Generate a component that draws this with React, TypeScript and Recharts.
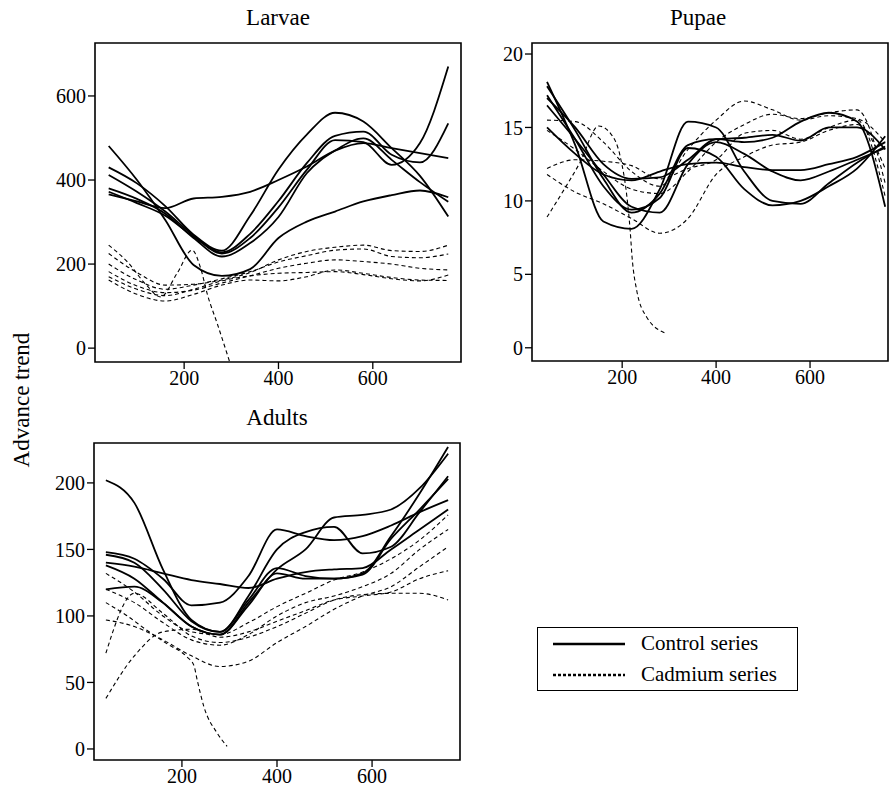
import React from "react";
import { LineChart, Line, XAxis, YAxis, ReferenceArea } from "recharts";

const FONT = '"Liberation Serif", "DejaVu Serif", serif';

// shared sampling of the smoothed trends (x axis)
const xGrid = [40, 100, 160, 220, 280, 340, 400, 460, 520, 580, 640, 700, 760];
const xTicks = [200, 400, 600];

// Larvae
const larvaeTicks = [0, 200, 400, 600];
const larvaeControl = [
  [481, 400, 305, 198, 172, 188, 262, 301, 325, 349, 364, 375, 359],
  [430, 392, 338, 270, 232, 315, 425, 508, 560, 539, 476, 410, 313],
  [412, 372, 325, 268, 225, 262, 335, 424, 495, 490, 436, 488, 670],
  [366, 349, 333, 356, 360, 372, 400, 432, 470, 488, 476, 464, 452],
  [380, 355, 320, 262, 218, 250, 312, 416, 470, 499, 448, 395, 348],
  [372, 345, 315, 265, 228, 272, 350, 440, 505, 515, 460, 442, 535],
];
const larvaeCadmium = [
  [225, 180, 150, 152, 162, 180, 210, 230, 240, 245, 232, 230, 245],
  [200, 162, 140, 150, 165, 182, 205, 220, 233, 236, 218, 215, 224],
  [182, 148, 132, 138, 155, 172, 190, 202, 210, 206, 200, 190, 186],
  [170, 140, 125, 140, 160, 172, 178, 180, 182, 175, 165, 160, 174],
  [162, 128, 112, 128, 150, 162, 160, 170, 186, 178, 168, 162, 161],
];
const larvaeDropX = [40, 80, 120, 150, 185, 217, 235, 250, 270, 300];
const larvaeDropY = [245, 205, 150, 122, 178, 233, 190, 125, 59, -45];

// Pupae
const pupaeTicks = [0, 5, 10, 15, 20];
const pupaeControl = [
  [18.1, 13.8, 8.6, 8.1, 10.8, 15.4, 15.0, 12.0, 10.0, 9.8, 11.2, 12.6, 13.7],
  [17.8, 14.8, 11.5, 9.2, 10.5, 13.8, 14.2, 14.0, 14.3, 15.4, 16.0, 15.4, 9.6],
  [17.2, 14.2, 11.0, 9.4, 10.2, 13.6, 13.0, 10.8, 9.7, 10.0, 11.0, 12.2, 14.4],
  [17.0, 15.0, 12.5, 11.5, 11.6, 12.8, 14.2, 14.3, 14.5, 14.1, 15.0, 15.0, 13.5],
  [15.0, 13.2, 11.8, 11.4, 12.0, 12.5, 12.6, 12.3, 12.1, 12.1, 12.5, 13.0, 14.0],
  [16.5, 14.2, 11.8, 9.6, 9.2, 12.5, 14.0, 13.2, 12.0, 11.4, 12.0, 12.8, 13.6],
];
const pupaeCadmium = [
  [15.5, 15.4, 14.0, 12.0, 11.0, 13.5, 15.5, 16.8, 16.2, 15.5, 15.8, 15.6, 14.0],
  [14.8, 13.5, 12.0, 10.8, 10.5, 12.0, 14.0, 15.2, 15.9, 15.6, 16.0, 16.2, 11.2],
  [12.2, 12.8, 12.7, 12.4, 11.5, 12.2, 12.8, 14.6, 14.8, 14.2, 15.0, 15.5, 10.3],
  [11.8, 10.6, 9.8, 8.8, 7.8, 8.8, 11.8, 13.0, 13.8, 14.0, 14.8, 15.2, 12.2],
];
const pupaeDropX = [40, 75, 110, 150, 175, 196, 210, 217, 221, 231, 252, 292];
const pupaeDropY = [8.9, 10.7, 12.6, 15.1, 14.6, 13.0, 10.3, 8.0, 6.2, 3.9, 2.1, 1.0];

// Adults
const adultsTicks = [0, 50, 100, 150, 200];
const adultsControl = [
  [202, 185, 135, 97, 88, 112, 136, 130, 128, 131, 158, 180, 203],
  [148, 143, 128, 108, 110, 130, 165, 160, 157, 160, 168, 178, 187],
  [146, 140, 120, 96, 88, 115, 150, 163, 167, 147, 152, 178, 205],
  [140, 137, 132, 127, 124, 121, 128, 133, 135, 136, 150, 165, 180],
  [138, 128, 110, 92, 86, 110, 135, 150, 174, 176, 180, 196, 222],
  [120, 122, 110, 92, 86, 108, 132, 128, 128, 132, 160, 192, 227],
];
const adultsCadmium = [
  [132, 118, 100, 88, 86, 95, 107, 117, 127, 133, 143, 157, 176],
  [120, 110, 95, 82, 78, 86, 100, 110, 115, 122, 132, 150, 165],
  [97, 92, 82, 70, 62, 66, 80, 92, 105, 115, 122, 137, 152],
  [72, 117, 102, 85, 80, 84, 92, 102, 112, 116, 117, 117, 112],
  [38, 70, 88, 90, 84, 88, 96, 104, 112, 115, 118, 128, 134],
];
const adultsDropX = [40, 85, 127, 169, 211, 225, 232, 246, 274, 295];
const adultsDropY = [110, 100, 89, 79, 69, 63, 52, 32, 12, 2];

const toPoints = (xs: number[], ys: number[]) => xs.map((x, i) => ({ x, y: ys[i] }));

const tickStyle = { fill: "#000", fontSize: 20, fontFamily: FONT };

interface PanelProps {
  left: number;
  top: number;
  width: number;
  height: number;
  xDomain: [number, number];
  yDomain: [number, number];
  yTicks: number[];
  control: number[][];
  cadmium: number[][];
  dropX: number[];
  dropY: number[];
}

const Panel: React.FC<PanelProps> = ({
  left,
  top,
  width,
  height,
  xDomain,
  yDomain,
  yTicks,
  control,
  cadmium,
  dropX,
  dropY,
}) => (
  <div style={{ position: "absolute", left, top }}>
    <LineChart width={width} height={height} margin={{ top: 5, right: 5, bottom: 0, left: 0 }}>
      <XAxis
        type="number"
        dataKey="x"
        domain={xDomain}
        ticks={xTicks}
        allowDataOverflow
        axisLine={false}
        tickLine={{ stroke: "#000", strokeWidth: 1.3 }}
        tickSize={7}
        tick={tickStyle}
        height={35}
      />
      <YAxis
        type="number"
        domain={yDomain}
        ticks={yTicks}
        allowDataOverflow
        axisLine={false}
        tickLine={{ stroke: "#000", strokeWidth: 1.3 }}
        tickSize={7}
        tick={tickStyle}
        width={55}
      />
      {cadmium.map((ys, i) => (
        <Line
          key={"cd" + i}
          data={toPoints(xGrid, ys)}
          dataKey="y"
          type="monotone"
          stroke="#000"
          strokeWidth={1.1}
          strokeDasharray="4 3"
          dot={false}
          isAnimationActive={false}
        />
      ))}
      <Line
        data={toPoints(dropX, dropY)}
        dataKey="y"
        type="monotone"
        stroke="#000"
        strokeWidth={1.1}
        strokeDasharray="4 3"
        dot={false}
        isAnimationActive={false}
      />
      {control.map((ys, i) => (
        <Line
          key={"ct" + i}
          data={toPoints(xGrid, ys)}
          dataKey="y"
          type="monotone"
          stroke="#000"
          strokeWidth={1.8}
          dot={false}
          isAnimationActive={false}
        />
      ))}
      <ReferenceArea
        x1={xDomain[0]}
        x2={xDomain[1]}
        y1={yDomain[0]}
        y2={yDomain[1]}
        fill="none"
        fillOpacity={0}
        stroke="#000"
        strokeWidth={1.6}
      />
    </LineChart>
  </div>
);

const Title: React.FC<{ x: number; y: number; text: string }> = ({ x, y, text }) => (
  <div
    style={{
      position: "absolute",
      left: x,
      top: y,
      transform: "translate(-50%, -50%)",
      fontFamily: FONT,
      fontSize: 23,
      whiteSpace: "nowrap",
    }}
  >
    {text}
  </div>
);

const LegendRow: React.FC<{ dash?: string; label: string }> = ({ dash, label }) => (
  <div style={{ display: "flex", alignItems: "center", height: 31 }}>
    <svg width={88} height={10} style={{ marginLeft: 15 }}>
      <line x1={0} y1={5} x2={72} y2={5} stroke="#000" strokeWidth={2.6} strokeDasharray={dash} />
    </svg>
    <span style={{ fontFamily: FONT, fontSize: 21 }}>{label}</span>
  </div>
);

export default function App() {
  return (
    <div style={{ position: "absolute", left: 0, top: 0, width: 889, height: 795, background: "#fff", overflow: "hidden" }}>
      <Title x={278} y={18} text="Larvae" />
      <Title x={698} y={18} text="Pupae" />
      <Title x={277} y={418} text="Adults" />
      <Panel
        left={40}
        top={38}
        width={426}
        height={359}
        xDomain={[11, 787]}
        yDomain={[-33, 726]}
        yTicks={larvaeTicks}
        control={larvaeControl}
        cadmium={larvaeCadmium}
        dropX={larvaeDropX}
        dropY={larvaeDropY}
      />
      <Panel
        left={477}
        top={38}
        width={416}
        height={358}
        xDomain={[8, 766]}
        yDomain={[-0.9, 20.75]}
        yTicks={pupaeTicks}
        control={pupaeControl}
        cadmium={pupaeCadmium}
        dropX={pupaeDropX}
        dropY={pupaeDropY}
      />
      <Panel
        left={39}
        top={438}
        width={426}
        height={357}
        xDomain={[15, 785]}
        yDomain={[-8.3, 230]}
        yTicks={adultsTicks}
        control={adultsControl}
        cadmium={adultsCadmium}
        dropX={adultsDropX}
        dropY={adultsDropY}
      />
      <div
        style={{
          position: "absolute",
          left: 22,
          top: 400,
          transform: "translate(-50%, -50%) rotate(-90deg)",
          fontFamily: FONT,
          fontSize: 23,
          whiteSpace: "nowrap",
        }}
      >
        Advance trend
      </div>
      <div
        style={{
          position: "absolute",
          left: 537,
          top: 627,
          width: 259,
          height: 62,
          border: "1.5px solid #000",
          display: "flex",
          flexDirection: "column",
          justifyContent: "center",
        }}
      >
        <LegendRow label="Control series" />
        <LegendRow dash="3 2" label="Cadmium series" />
      </div>
    </div>
  );
}
